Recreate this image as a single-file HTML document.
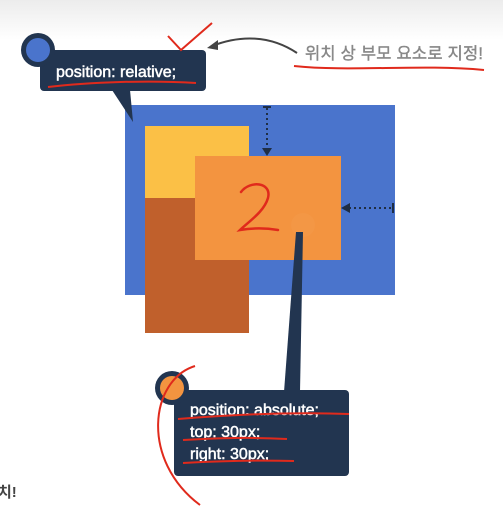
<!DOCTYPE html>
<html><head><meta charset="utf-8"><style>
html,body{margin:0;padding:0;width:503px;height:513px;overflow:hidden;background:#fff}
svg{display:block}
text{font-family:"Liberation Sans","Noto Sans CJK KR",sans-serif}
</style></head><body>
<svg width="503" height="513" viewBox="0 0 503 513">
<defs>
<linearGradient id="g" x1="0" y1="0" x2="0" y2="1"><stop offset="0" stop-color="#ececec"/><stop offset="1" stop-color="#ffffff"/></linearGradient>
</defs>
<rect x="0" y="0" width="503" height="40" fill="url(#g)"/>
<rect x="125" y="105" width="270" height="190" fill="#4a74cc"/>
<rect x="145" y="126" width="104" height="72" fill="#fbc046"/>
<rect x="145" y="198" width="104" height="135" fill="#c0602c"/>
<rect x="195" y="156" width="146" height="104" fill="#f39440"/>
<circle cx="303" cy="225" r="12" fill="#f49a4a" opacity="0.6"/>
<line x1="267" y1="108" x2="267" y2="150" stroke="#1f2e45" stroke-width="2" stroke-dasharray="2,3"/>
<line x1="263" y1="107" x2="271" y2="107" stroke="#1f2e45" stroke-width="2"/>
<path d="M262,148 L267,156 L272,148Z" fill="#1f2e45"/>
<line x1="349" y1="208" x2="393" y2="208" stroke="#1f2e45" stroke-width="2" stroke-dasharray="2,3"/>
<line x1="393" y1="203" x2="393" y2="213" stroke="#1f2e45" stroke-width="2"/>
<path d="M350,203 L341,208 L350,213Z" fill="#1f2e45"/>
<path d="M241,192 C250,180 272,182 268,198 C264,212 248,222 240,230 C252,228 266,228 278,230" fill="none" stroke="#e02a1c" stroke-width="2.5" stroke-linecap="round"/>
<path d="M112,90 L133,122 L130,90Z" fill="#223550"/>
<rect x="40" y="50" width="166" height="41" rx="4" fill="#223550"/>
<circle cx="38" cy="50" r="17" fill="#223550"/>
<circle cx="38" cy="50" r="12" fill="#4a74cc"/>
<text x="56" y="77" font-size="16" fill="#fff" stroke="#fff" stroke-width="0.5">position: relative;</text>
<path d="M48,87 C90,82 150,80 196,83" fill="none" stroke="#e02a1c" stroke-width="2"/>
<path d="M168,36 L181,50 L212,23" fill="none" stroke="#e02a1c" stroke-width="2"/>
<path d="M297,53 C270,35 240,35 212,46" fill="none" stroke="#444" stroke-width="2"/>
<path d="M207,48 L218,40 L218,50Z" fill="#444"/>
<text x="305" y="59" font-size="16.5" fill="#888" stroke="#888" stroke-width="0.4" textLength="178">위치 상 부모 요소로 지정!</text>
<path d="M294,66 C350,72 420,64 484,70" fill="none" stroke="#e02a1c" stroke-width="2"/>
<path d="M296,232 L284,392 L300,392 L303,232Z" fill="#223550"/>
<rect x="174" y="390" width="175" height="86" rx="4" fill="#223550"/>
<circle cx="172" cy="388" r="17" fill="#223550"/>
<circle cx="172" cy="388" r="12" fill="#f39440"/>
<text x="190" y="415" font-size="16" fill="#fff" stroke="#fff" stroke-width="0.5">position: absolute;</text>
<text x="190" y="437" font-size="16" fill="#fff" stroke="#fff" stroke-width="0.5">top: 30px;</text>
<text x="190" y="459" font-size="16" fill="#fff" stroke="#fff" stroke-width="0.5">right: 30px;</text>
<path d="M178,419 C240,414 300,412 349,414" fill="none" stroke="#e02a1c" stroke-width="2"/>
<path d="M183,440 C220,438 250,437 287,439" fill="none" stroke="#e02a1c" stroke-width="2"/>
<path d="M183,463 C220,461 260,460 294,461" fill="none" stroke="#e02a1c" stroke-width="2"/>
<path d="M195,366 C150,380 140,460 200,505" fill="none" stroke="#e02a1c" stroke-width="2"/>
<text x="-2" y="497" font-size="15" font-weight="bold" fill="#444">치!</text>
</svg>
</body></html>
